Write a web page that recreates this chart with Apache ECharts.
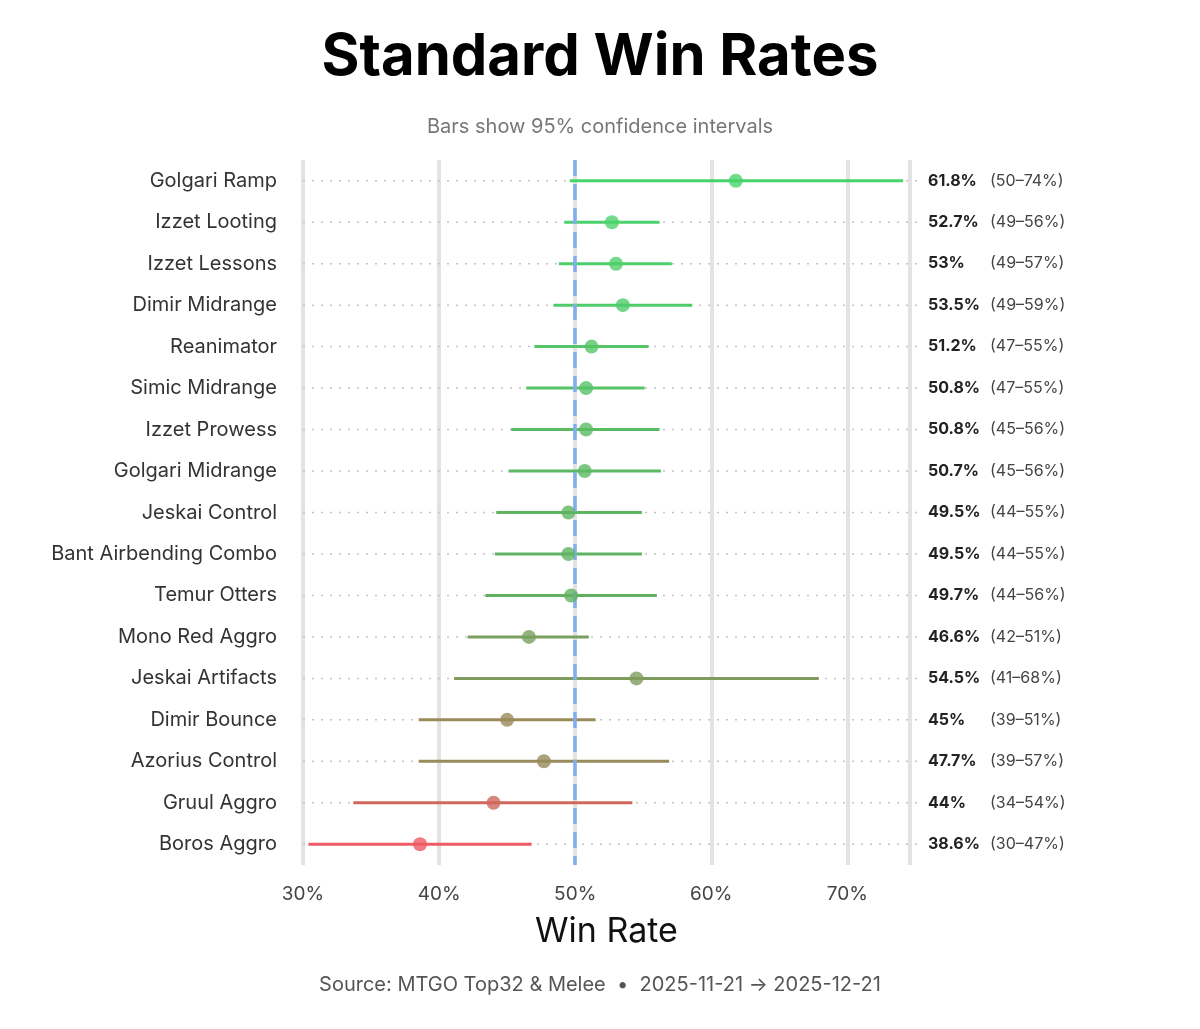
<!DOCTYPE html>
<html>
<head>
<meta charset="UTF-8">
<title>Standard Win Rates</title>
<script src="https://cdn.jsdelivr.net/npm/echarts@6/dist/echarts.min.js"></script>
<style>
  html, body { margin: 0; background: #fff; }
  #chart { width: 1200px; height: 1029px; }
</style>
</head>
<body>
<div id="chart"></div>
<script>
const decks = ['Golgari Ramp', 'Izzet Looting', 'Izzet Lessons', 'Dimir Midrange', 'Reanimator',
  'Simic Midrange', 'Izzet Prowess', 'Golgari Midrange', 'Jeskai Control', 'Bant Airbending Combo',
  'Temur Otters', 'Mono Red Aggro', 'Jeskai Artifacts', 'Dimir Bounce', 'Azorius Control',
  'Gruul Aggro', 'Boros Aggro'];
const winRate = [61.8, 52.7, 53, 53.5, 51.2, 50.8, 50.8, 50.7, 49.5, 49.5, 49.7, 46.6, 54.5, 45, 47.7, 44, 38.6];
const ciLow = [49.6, 49.2, 48.8, 48.4, 47.0, 46.4, 45.3, 45.1, 44.2, 44.1, 43.4, 42.1, 41.1, 38.5, 38.5, 33.7, 30.4];
const ciHigh = [74.1, 56.2, 57.1, 58.6, 55.4, 55.1, 56.2, 56.3, 54.9, 54.9, 56.0, 51.0, 67.9, 51.5, 56.9, 54.2, 46.8];
const ciText = ['(50–74%)', '(49–56%)', '(49–57%)', '(49–59%)', '(47–55%)', '(47–55%)', '(45–56%)', '(45–56%)',
  '(44–55%)', '(44–55%)', '(44–56%)', '(42–51%)', '(41–68%)', '(39–51%)', '(39–57%)', '(34–54%)', '(30–47%)'];
const colors = ['#47d46a', '#4cd26c', '#4dd06b', '#4fcc6a', '#55c567', '#57c266', '#5abb63', '#5bba63',
  '#5fb461', '#5fb461', '#61b060', '#79a05e', '#7e9c5e', '#9b8a5a', '#9a8b5c', '#d0685c', '#ef5a64'];

const chart = echarts.init(document.getElementById('chart'));
const font = 'Inter, "Noto Sans", sans-serif';

chart.setOption({
  animation: false,
  textStyle: { fontFamily: font },
  title: [
    { text: 'Standard Win Rates', left: 'center', top: 24,
      textStyle: { fontSize: 58, fontWeight: 'bold', color: '#000', fontFamily: font } },
    { text: 'Bars show 95% confidence intervals', left: 'center', top: 112,
      textStyle: { fontSize: 20, fontWeight: 'normal', color: '#777', fontFamily: font } },
    { text: 'Source: MTGO Top32 & Melee  •  2025-11-21 → 2025-12-21', left: 'center', top: 970,
      textStyle: { fontSize: 20, fontWeight: 'normal', color: '#555', fontFamily: font } }
  ],
  grid: { left: 303, right: 290, top: 160, bottom: 164 },
  xAxis: {
    type: 'value', min: 30, max: 74.6, interval: 10,
    name: 'Win Rate', nameLocation: 'middle', nameGap: 50,
    nameTextStyle: { fontSize: 34, color: '#111' },
    axisLine: { show: false }, axisTick: { show: false },
    axisLabel: { formatter: '{value}%', fontSize: 19, color: '#444', margin: 20, showMaxLabel: false },
    splitLine: { lineStyle: { color: '#e3e3e3', width: 4 } }
  },
  yAxis: [
    { type: 'category', data: decks, inverse: true,
      axisLine: { show: false }, axisTick: { show: false }, splitLine: { show: false },
      axisLabel: { fontSize: 20, color: '#333', margin: 26 } },
    { type: 'category', data: decks, inverse: true, position: 'right',
      axisLine: { show: false }, axisTick: { show: false }, splitLine: { show: false },
      axisLabel: {
        margin: 18,
        formatter: (v, i) => '{b|' + winRate[i] + '%}{c|' + ciText[i] + '}',
        rich: {
          b: { fontSize: 16, fontWeight: 'bold', color: '#222', width: 62, fontFamily: font },
          c: { fontSize: 16, color: '#444', fontFamily: font }
        }
      } }
  ],
  series: [
    { type: 'custom', z: 1, silent: true,
      data: decks.map((d, i) => [30, i]),
      renderItem: (params, api) => {
        const p = api.coord([30, api.value(1)]);
        const cs = params.coordSys;
        return { type: 'line', shape: { x1: p[0], y1: p[1], x2: cs.x + cs.width + 12, y2: p[1] },
          style: { stroke: '#c4c4c4', lineWidth: 1.5, lineDash: [2, 7] } };
      } },
    { type: 'line', z: 3, data: [],
      markLine: { silent: true, symbol: 'none', label: { show: false },
        lineStyle: { color: '#82aef0', width: 3.5, type: [16, 8] },
        data: [{ xAxis: 50 }] } },
    { type: 'custom', z: 4,
      data: decks.map((d, i) => [ciLow[i], ciHigh[i], i]),
      renderItem: (params, api) => {
        const a = api.coord([api.value(0), api.value(2)]);
        const b = api.coord([api.value(1), api.value(2)]);
        return { type: 'line', shape: { x1: a[0], y1: a[1], x2: b[0], y2: b[1] },
          style: { stroke: colors[params.dataIndex], lineWidth: 3 } };
      } },
    { type: 'scatter', z: 5, symbolSize: 14,
      data: decks.map((d, i) => ({ value: [winRate[i], i], itemStyle: { color: colors[i] } })) }
  ]
});
</script>
</body>
</html>
